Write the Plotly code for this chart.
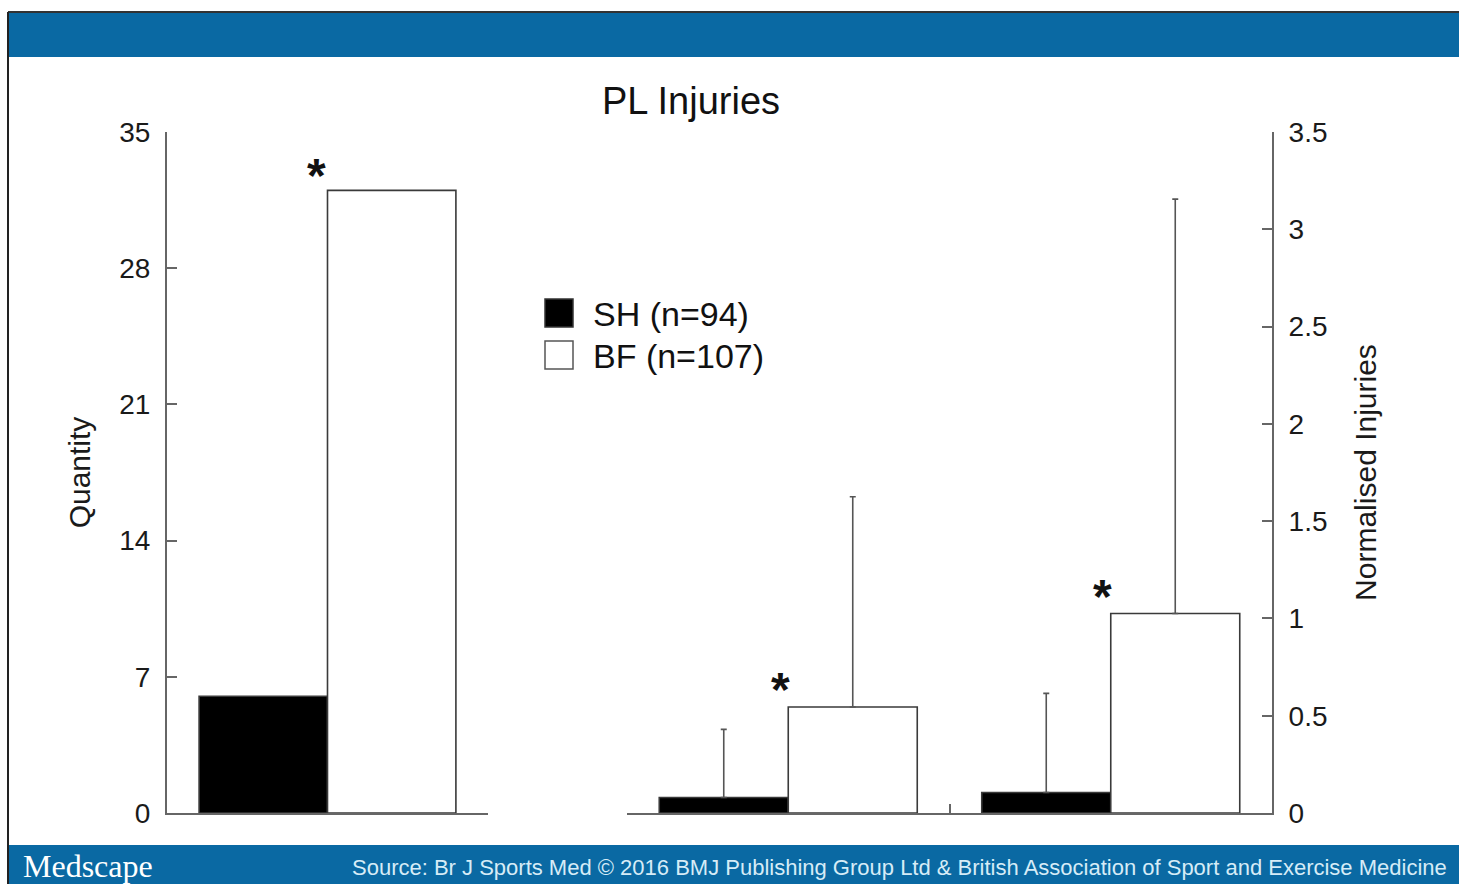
import plotly.graph_objects as go

# ---- data ----
quantity_categories = ["All PL injuries"]
normalised_categories = ["Measure A", "Measure B"]

sh_quantity = [6]
bf_quantity = [32]

sh_normalised = [0.08, 0.105]
sh_normalised_err = [0.35, 0.51]
bf_normalised = [0.545, 1.025]
bf_normalised_err = [1.08, 2.13]

left_ticks = [0, 7, 14, 21, 28, 35]
right_ticks = [0, 0.5, 1, 1.5, 2, 2.5, 3, 3.5]

legend_labels = ["SH (n=94)", "BF (n=107)"]
title_text = "PL Injuries"
source_text = ("Source: Br J Sports Med \u00a9 2016 BMJ Publishing Group Ltd &amp; "
               "British Association of Sport and Exercise Medicine")

# ---- layout constants ----
W, H = 1459, 884
FONT = "Liberation Sans, Arial, sans-serif"
AX = "#666666"
BLUE = "#0a69a3"


def px(x):
    return x / W


def py(y):
    return (H - y) / H


fig = go.Figure()

bar_line = dict(color="#3a3a3a", width=1.6)
err_style = dict(type="data", symmetric=False, color="#555555", thickness=1.6, width=3)

fig.add_trace(go.Bar(x=quantity_categories, y=sh_quantity, name=legend_labels[0],
                     marker=dict(color="black", line=bar_line),
                     xaxis="x", yaxis="y", showlegend=False))
fig.add_trace(go.Bar(x=quantity_categories, y=bf_quantity, name=legend_labels[1],
                     marker=dict(color="white", line=bar_line),
                     xaxis="x", yaxis="y", showlegend=False))
fig.add_trace(go.Bar(x=normalised_categories, y=sh_normalised, name=legend_labels[0],
                     marker=dict(color="black", line=bar_line),
                     error_y=dict(array=sh_normalised_err, arrayminus=[0] * len(sh_normalised), **err_style),
                     xaxis="x2", yaxis="y2", showlegend=False))
fig.add_trace(go.Bar(x=normalised_categories, y=bf_normalised, name=legend_labels[1],
                     marker=dict(color="white", line=bar_line),
                     error_y=dict(array=bf_normalised_err, arrayminus=[0] * len(bf_normalised), **err_style),
                     xaxis="x2", yaxis="y2", showlegend=False))

ydom = [py(813), py(132)]
common_x = dict(type="category", showline=True, linecolor=AX, linewidth=2, automargin=False,
                ticks="inside", tickson="boundaries", ticklen=9, tickwidth=2, tickcolor=AX,
                showticklabels=False, showgrid=False, zeroline=False, fixedrange=True)
common_y = dict(showline=True, linecolor=AX, linewidth=2, ticks="inside", ticklen=10,
                tickwidth=1.5, tickcolor=AX, showgrid=False, zeroline=False, automargin=False,
                tickfont=dict(family=FONT, size=28, color="#1a1a1a"),
                ticklabelstandoff=9, fixedrange=True)

fig.update_layout(
    width=W, height=H, autosize=False,
    margin=dict(l=0, r=0, t=0, b=0, pad=0, autoexpand=False),
    paper_bgcolor="white", plot_bgcolor="rgba(0,0,0,0)",
    barmode="group", bargap=0.2, bargroupgap=0,
    font=dict(family=FONT, color="#1a1a1a"),
    title=dict(text=title_text, x=px(691), y=py(101), xref="paper", yref="paper", automargin=False,
               xanchor="center", yanchor="middle", font=dict(family=FONT, size=38, color="#111")),
    xaxis=dict(domain=[px(167), px(488)], anchor="y", **common_x),
    xaxis2=dict(domain=[px(627), px(1272)], anchor="y2", **common_x),
    yaxis=dict(domain=ydom, anchor="x", side="left", range=[0, 35], tickvals=left_ticks,
               title=dict(text="Quantity", standoff=20, font=dict(family=FONT, size=30, color="#1a1a1a")),
               **common_y),
    yaxis2=dict(domain=ydom, anchor="x2", side="right", range=[0, 3.5], tickvals=right_ticks,
                title=dict(text="Normalised Injuries", standoff=28, font=dict(family=FONT, size=30, color="#1a1a1a")),
                **common_y),
)

# significance asterisks above BF bars
ast_font = dict(family="Liberation Sans, Arial", size=48, color="#111")
fig.add_annotation(x=quantity_categories[0], y=bf_quantity[0], xref="x", yref="y",
                   text="<b>*</b>", showarrow=False, xanchor="center", yanchor="bottom",
                   xshift=-11, yshift=-14, font=ast_font)
for cat, val in zip(normalised_categories, bf_normalised):
    fig.add_annotation(x=cat, y=val, xref="x2", yref="y2",
                       text="<b>*</b>", showarrow=False, xanchor="center", yanchor="bottom",
                       xshift=-8, yshift=-11, font=ast_font)

# custom legend
fig.add_shape(type="rect", xref="paper", yref="paper", x0=px(545), x1=px(573), y0=py(327), y1=py(299),
              fillcolor="black", line=dict(color="#333", width=1.5))
fig.add_shape(type="rect", xref="paper", yref="paper", x0=px(545), x1=px(573), y0=py(369), y1=py(341),
              fillcolor="white", line=dict(color="#555", width=1.5))
for lab, yc in zip(legend_labels, [314, 356]):
    fig.add_annotation(x=px(591), y=py(yc), xref="paper", yref="paper", text=lab, showarrow=False,
                       xanchor="left", yanchor="middle", font=dict(family=FONT, size=34, color="#111"))

# frame: header / footer bands
fig.add_shape(type="rect", xref="paper", yref="paper", x0=px(8), x1=1.0, y0=py(57), y1=py(12),
              fillcolor=BLUE, line=dict(width=0), layer="below")
fig.add_shape(type="rect", xref="paper", yref="paper", x0=px(8), x1=1.0, y0=0, y1=py(845),
              fillcolor=BLUE, line=dict(width=0), layer="below")
fig.add_shape(type="line", xref="paper", yref="paper", x0=px(8), x1=1.0, y0=py(12), y1=py(12),
              line=dict(color="#333", width=2))
fig.add_shape(type="line", xref="paper", yref="paper", x0=px(8), x1=px(8), y0=0, y1=py(12),
              line=dict(color="#222", width=2))
fig.add_annotation(x=px(21), y=py(866), xref="paper", yref="paper", text="Medscape", showarrow=False,
                   xanchor="left", yanchor="middle",
                   font=dict(family="Liberation Serif, Times New Roman, serif", size=32, color="white"))
fig.add_annotation(x=px(350), y=py(867), xref="paper", yref="paper", text=source_text, showarrow=False,
                   xanchor="left", yanchor="middle",
                   font=dict(family=FONT, size=22, color="#d6ecf7"))

fig.write_html(
    "out.html",
    config={"displayModeBar": False},
    post_script="document.body.style.margin='0';document.body.style.overflow='hidden';",
)
